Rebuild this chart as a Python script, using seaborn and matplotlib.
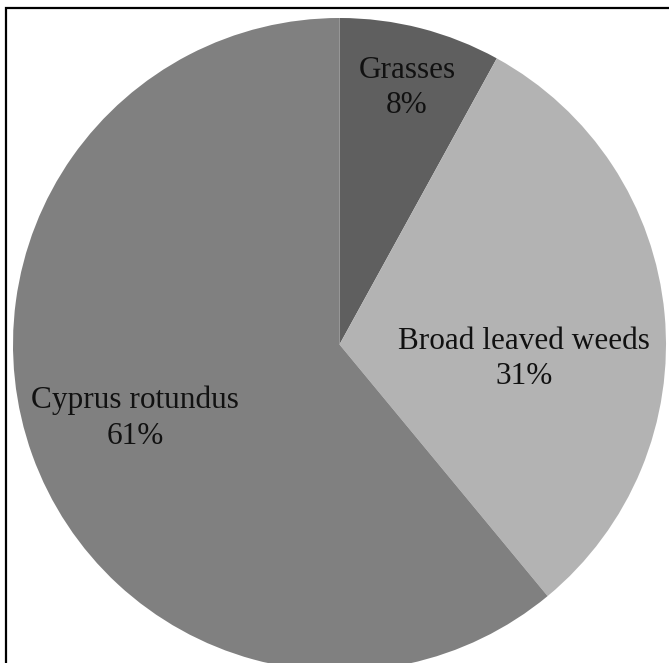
import matplotlib.pyplot as plt
import matplotlib.patches as patches
import seaborn as sns

# data
categories = ['Grasses', 'Broad leaved weeds', 'Cyprus rotundus']
shares = [8, 31, 61]
colors = ['#5f5f5f', '#b3b3b3', '#808080']
# label centres in pie units (radius = 1)
label_pos = [(0.207, 0.786), (0.565, -0.044), (-0.626, -0.225)]

sns.set_theme(style='white')
plt.rcParams['font.family'] = ['Liberation Serif', 'DejaVu Serif']

fig = plt.figure(figsize=(6.69, 6.63), dpi=100)

# outer frame (only top/left edges are inside the picture)
frame = patches.Rectangle((6 / 669, -0.1), 1.2, (663 - 8) / 663 + 0.1,
                          transform=fig.transFigure, fill=False,
                          edgecolor='black', linewidth=1.6)
fig.patches.append(frame)

ax = fig.add_axes([13 / 669, -8 / 663, 653 / 669, 653 / 663])
wedges, _ = ax.pie(shares, colors=colors, startangle=90, counterclock=False,
                   radius=1, wedgeprops={'linewidth': 0})
ax.set_xlim(-1, 1)
ax.set_ylim(-1, 1)
ax.set_aspect('auto')
ax.axis('off')

for name, pct, (x, y) in zip(categories, shares, label_pos):
    ax.text(x, y, f'{name}\n{pct}%', ha='center', va='center',
            fontsize=22.5, color='#111111', linespacing=1.3)

plt.savefig('out.png', dpi=100)
